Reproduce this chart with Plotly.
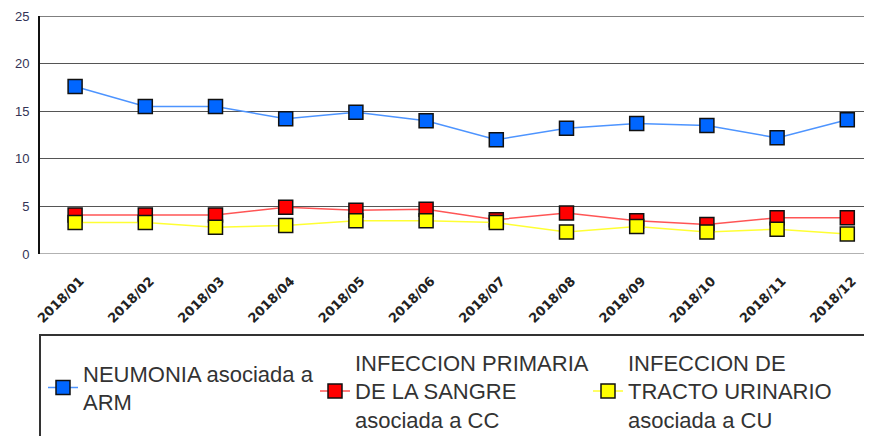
import plotly.graph_objects as go

months = ["2018/01", "2018/02", "2018/03", "2018/04", "2018/05", "2018/06",
          "2018/07", "2018/08", "2018/09", "2018/10", "2018/11", "2018/12"]
neumonia = [17.6, 15.5, 15.5, 14.2, 14.9, 14.0, 12.0, 13.2, 13.7, 13.5, 12.2, 14.1]
sangre = [4.1, 4.1, 4.1, 4.9, 4.6, 4.7, 3.6, 4.3, 3.5, 3.1, 3.8, 3.8]
urinario = [3.3, 3.3, 2.8, 3.0, 3.5, 3.5, 3.3, 2.3, 2.9, 2.3, 2.6, 2.1]

names = ["NEUMONIA asociada a<br>ARM",
         "INFECCION PRIMARIA<br>DE LA SANGRE<br>asociada a CC",
         "INFECCION DE<br>TRACTO URINARIO<br>asociada a CU"]
series = [neumonia, sangre, urinario]
marker_colors = ["#0066ff", "#ff0000", "#ffff00"]
line_colors = ["#4d94ff", "#ff5555", "#ffff33"]
legend_ids = ["legend", "legend2", "legend3"]
legend_x_px = [35, 307, 580]   # left edge of each legend entry (figure px)
legend_y_px = [380, 383, 383]  # vertical centre of each legend entry (figure px)

W, H = 872, 436
ml, mr, mt, mb = 32, 0, 8, 190
pw, ph = W - ml - mr, H - mt - mb
plot_bottom = H - mb

fig = go.Figure()
for name, vals, mc, lc, lg in zip(names, series, marker_colors, line_colors, legend_ids):
    fig.add_trace(go.Scatter(
        x=months, y=vals, name=name, mode="lines+markers", legend=lg,
        line=dict(color=lc, width=1.5),
        marker=dict(symbol="square", size=14, color=mc,
                    line=dict(color="#111111", width=1.5)),
    ))

legend_style = dict(
    xref="paper", yref="paper", xanchor="left", yanchor="middle",
    font=dict(size=22, family="Liberation Sans, Arial, sans-serif", color="#333333"),
    itemwidth=30, bgcolor="rgba(0,0,0,0)", borderwidth=0, valign="middle",
)
legends = {}
for lg, xp, yp in zip(legend_ids, legend_x_px, legend_y_px):
    legends[lg] = dict(legend_style, x=(xp - ml) / pw, y=(plot_bottom - yp) / ph)

fig.update_layout(
    width=W, height=H,
    margin=dict(l=ml, r=mr, t=mt, b=mb, autoexpand=False),
    paper_bgcolor="white", plot_bgcolor="white",
    font=dict(family="Liberation Sans, Arial, sans-serif", color="#333333"),
    showlegend=True,
    shapes=[dict(type="rect", xref="paper", yref="paper",
                 x0=0, x1=1.2, y0=(plot_bottom - 327) / ph, y1=-1.2,
                 line=dict(color="#333333", width=2), fillcolor="rgba(0,0,0,0)",
                 layer="below")],
    **legends,
)

fig.update_xaxes(
    type="category", range=[-0.5, -0.5 + pw / 70.2],
    showgrid=False, zeroline=False, showline=False,
    tickangle=-45, ticks="",
    tickfont=dict(family="DejaVu Sans", size=13, color="#222222", weight="bold"),
    ticklabelstandoff=16, ticklabelshift=5,
)
fig.update_yaxes(
    range=[0, 25], dtick=5, tick0=0,
    showgrid=True, gridcolor="#555555", gridwidth=1.3,
    zeroline=False, showline=True, linecolor="#111111", linewidth=2,
    mirror=False, ticks="",
    tickfont=dict(family="Liberation Sans, Arial, sans-serif", size=13, color="#333355"),
    ticklabelstandoff=6,
)
fig.add_hline(y=0, line=dict(color="#999999", width=1.3))
fig.add_hline(y=25, line=dict(color="#555555", width=1.3))

fig.write_html("out.html")
